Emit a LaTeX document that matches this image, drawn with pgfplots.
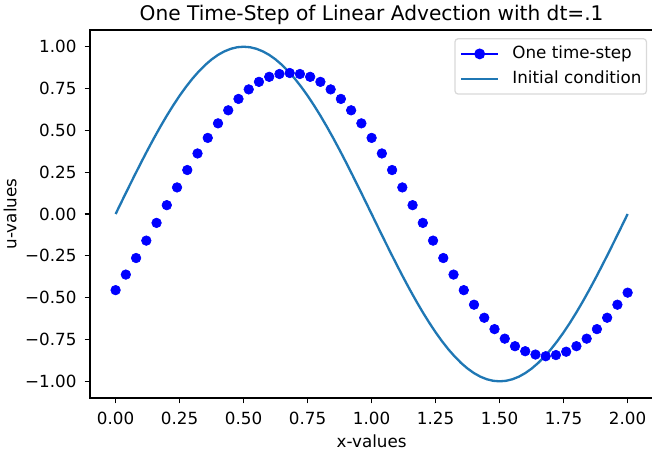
\documentclass[border=0pt]{standalone}
\usepackage{pgfplots}
\pgfplotsset{compat=1.18}
\usepackage{fontspec}
\setmainfont{DejaVu Sans}
\definecolor{mplblue}{HTML}{1F77B4}
\begin{document}
\begin{tikzpicture}
\begin{axis}[
  scale only axis,
  width=363.3pt, height=237.4pt,
  xmin=-0.1, xmax=2.1, ymin=-1.1, ymax=1.1,
  axis line style={black, line width=0.8pt},
  tick style={black, line width=0.8pt},
  tick align=outside,
  major tick length=3.5pt,
  xtick pos=left, ytick pos=left,
  xtick={0,0.25,0.5,0.75,1,1.25,1.5,1.75,2},
  xticklabels={0.00,0.25,0.50,0.75,1.00,1.25,1.50,1.75,2.00},
  ytick={-1,-0.75,-0.5,-0.25,0,0.25,0.5,0.75,1},
  yticklabels={−1.00,−0.75,−0.50,−0.25,0.00,0.25,0.50,0.75,1.00},
  ticklabel style={font=\fontsize{10.8}{13}\selectfont, inner sep=0pt},
  xticklabel style={anchor=base, yshift=-13.3pt},
  yticklabel style={anchor=east, xshift=-5pt},
  title={One Time-Step of Linear Advection with dt=.1},
  title style={at={(axis description cs:0.5,1)}, anchor=base, yshift=0pt, inner sep=0pt, font=\fontsize{13}{15}\selectfont},
  xlabel={x-values},
  xlabel style={at={(axis description cs:0.5,0)}, anchor=base, yshift=-31.6pt, inner sep=0pt, font=\fontsize{10.8}{13}\selectfont},
  ylabel={u-values},
  ylabel style={at={(axis description cs:-0.142,0.5)}, anchor=center, inner sep=0pt, font=\fontsize{10.8}{13}\selectfont},
  legend cell align=left,
  legend style={at={(rel axis cs:0.989,0.978)}, anchor=north east,
    draw=black!15, rounded corners=2pt, line width=0.8pt,
    inner xsep=3.2pt, inner ysep=4.9pt,
    row sep=6.3pt, column sep=8.4pt,
    font=\fontsize{10.8}{13}\selectfont,
    nodes={inner xsep=0pt, inner ysep=0pt, text height=7.8pt, text depth=2pt}},
]
\addplot[only marks, mark=*, blue, mark size=3.1pt, mark options={draw=none, fill=blue},
  legend image code/.code={\draw[blue, line width=1.5pt] (0pt,0pt) -- (23.9pt,0pt); \fill[blue] (11.95pt,0pt) circle (3.1pt);}]
table {
x y
0.00 -0.455
0.04 -0.362
0.08 -0.263
0.12 -0.159
0.16 -0.053
0.20 0.053
0.24 0.159
0.28 0.263
0.32 0.362
0.36 0.455
0.40 0.542
0.44 0.620
0.48 0.688
0.52 0.745
0.56 0.790
0.60 0.820
0.64 0.837
0.68 0.843
0.72 0.837
0.76 0.820
0.80 0.790
0.84 0.745
0.88 0.688
0.92 0.620
0.96 0.542
1.00 0.455
1.04 0.362
1.08 0.263
1.12 0.159
1.16 0.053
1.20 -0.053
1.24 -0.159
1.28 -0.263
1.32 -0.362
1.36 -0.455
1.40 -0.542
1.44 -0.620
1.48 -0.688
1.52 -0.745
1.56 -0.790
1.60 -0.820
1.64 -0.840
1.68 -0.850
1.72 -0.843
1.76 -0.823
1.80 -0.790
1.84 -0.745
1.88 -0.688
1.92 -0.620
1.96 -0.542
2.00 -0.470
};
\addlegendentry{One time-step}
\addplot[mplblue, line width=1.5pt, no marks,
  legend image code/.code={\draw[mplblue, line width=1.5pt] (0pt,0pt) -- (23.9pt,0pt);}]
table {
x y
0.000 0
0.025 0.0785
0.050 0.1564
0.075 0.2334
0.100 0.3090
0.125 0.3827
0.150 0.4540
0.175 0.5225
0.200 0.5878
0.225 0.6494
0.250 0.7071
0.275 0.7604
0.300 0.8090
0.325 0.8526
0.350 0.8910
0.375 0.9239
0.400 0.9511
0.425 0.9724
0.450 0.9877
0.475 0.9969
0.500 1.0000
0.525 0.9969
0.550 0.9877
0.575 0.9724
0.600 0.9511
0.625 0.9239
0.650 0.8910
0.675 0.8526
0.700 0.8090
0.725 0.7604
0.750 0.7071
0.775 0.6494
0.800 0.5878
0.825 0.5225
0.850 0.4540
0.875 0.3827
0.900 0.3090
0.925 0.2334
0.950 0.1564
0.975 0.0785
1.000 0
1.025 -0.0785
1.050 -0.1564
1.075 -0.2334
1.100 -0.3090
1.125 -0.3827
1.150 -0.4540
1.175 -0.5225
1.200 -0.5878
1.225 -0.6494
1.250 -0.7071
1.275 -0.7604
1.300 -0.8090
1.325 -0.8526
1.350 -0.8910
1.375 -0.9239
1.400 -0.9511
1.425 -0.9724
1.450 -0.9877
1.475 -0.9969
1.500 -1.0000
1.525 -0.9969
1.550 -0.9877
1.575 -0.9724
1.600 -0.9511
1.625 -0.9239
1.650 -0.8910
1.675 -0.8526
1.700 -0.8090
1.725 -0.7604
1.750 -0.7071
1.775 -0.6494
1.800 -0.5878
1.825 -0.5225
1.850 -0.4540
1.875 -0.3827
1.900 -0.3090
1.925 -0.2334
1.950 -0.1564
1.975 -0.0785
2.000 0
};
\addlegendentry{Initial condition}
\end{axis}
\pgfresetboundingbox
\useasboundingbox (-58.05pt,-34.83pt) rectangle (362.5pt,256.75pt);
\end{tikzpicture}
\end{document}
